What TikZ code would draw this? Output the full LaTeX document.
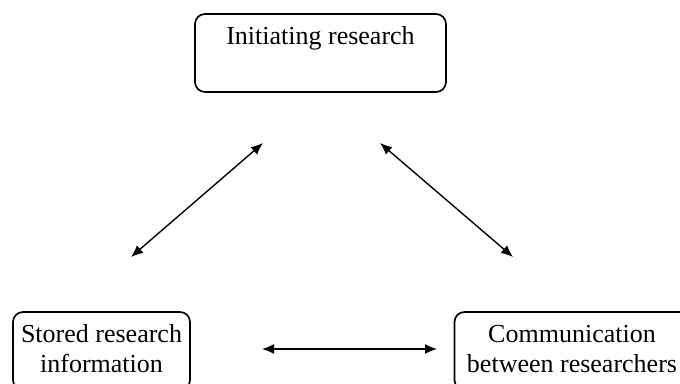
\documentclass[tikz,border=0pt]{standalone}
\usepackage{fontspec}
\setmainfont{Liberation Serif}
\usetikzlibrary{arrows.meta}
\begin{document}
\begin{tikzpicture}[x=1pt,y=-1pt,
  box/.style={draw, rounded corners=10pt, line width=1.7pt, align=center,
    minimum height=78pt, inner sep=0pt, font=\fontsize{26}{30}\selectfont},
  link/.style={{Latex[length=12pt,width=10pt]}-{Latex[length=12pt,width=10pt]}, line width=1.4pt}]
  \useasboundingbox (0,0) rectangle (680,383);
  \node[box, minimum width=251pt] (init) at (320.5,53) {\strut Initiating research\\\strut};
  \node[box, minimum width=177pt] (stored) at (101.5,351) {\strut Stored research\\\strut information};
  \node[box, minimum width=235pt] (comm) at (572,351) {\strut Communication\\\strut between researchers};
  \coordinate (tl1) at (263,143);
  \coordinate (tl2) at (131,257);
  \coordinate (tr1) at (380,143);
  \coordinate (tr2) at (513,257);
  \coordinate (b1) at (262,349);
  \coordinate (b2) at (437,349);
  \draw[link] (tl1) -- (tl2);
  \draw[link] (tr1) -- (tr2);
  \draw[link] (b1) -- (b2);
\end{tikzpicture}
\end{document}
